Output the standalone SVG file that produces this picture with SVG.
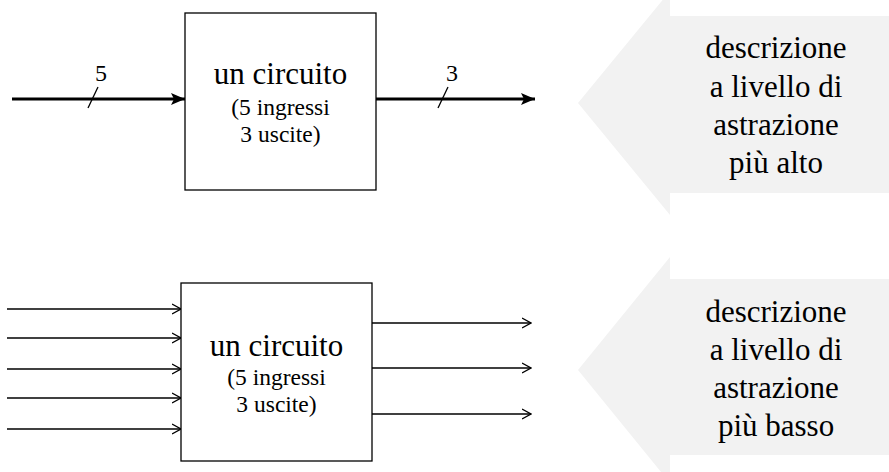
<svg xmlns="http://www.w3.org/2000/svg" width="889" height="472" viewBox="0 0 889 472">
<defs>
<marker id="ah" viewBox="0 0 14 12" refX="14" refY="6" markerWidth="14" markerHeight="12" markerUnits="userSpaceOnUse" orient="auto">
<path d="M0,0 L14,6 L0,12 L3,6 Z" fill="#000"/>
</marker>
<marker id="oh" viewBox="0 0 10 12" refX="9" refY="6" markerWidth="10" markerHeight="12" markerUnits="userSpaceOnUse" orient="auto">
<path d="M0,1 L9,6 L0,11" fill="none" stroke="#000" stroke-width="1.3"/>
</marker>
</defs>
<g id="bigarrow-top" text-anchor="middle" fill="#000">
<polygon fill="#f2f2f2" points="889,16 670,16 670,-9 578,103 670,215 670,193 889,193"/>
<text x="776" y="58" font-family="Liberation Serif" font-size="31" style="font-family:Liberation Serif,serif !important">descrizione</text>
<text x="776" y="97" font-family="Liberation Serif" font-size="31" style="font-family:Liberation Serif,serif !important">a livello di</text>
<text x="776" y="135" font-family="Liberation Serif" font-size="31" style="font-family:Liberation Serif,serif !important">astrazione</text>
<text x="776" y="173" font-family="Liberation Serif" font-size="31" style="font-family:Liberation Serif,serif !important">più alto</text>
</g>
<g id="bigarrow-bottom" text-anchor="middle" fill="#000">
<polygon fill="#f2f2f2" points="889,279 670,279 670,257 578,370 670,483 670,455 889,455"/>
<text x="776" y="322" font-family="Liberation Serif" font-size="31" style="font-family:Liberation Serif,serif !important">descrizione</text>
<text x="776" y="360" font-family="Liberation Serif" font-size="31" style="font-family:Liberation Serif,serif !important">a livello di</text>
<text x="776" y="398" font-family="Liberation Serif" font-size="31" style="font-family:Liberation Serif,serif !important">astrazione</text>
<text x="776" y="436" font-family="Liberation Serif" font-size="31" style="font-family:Liberation Serif,serif !important">più basso</text>
</g>
<g id="connectors" fill="none" stroke="#000">
<g stroke-width="3">
<line x1="12" y1="99" x2="185" y2="99" marker-end="url(#ah)"/>
<line x1="376" y1="99" x2="535" y2="99" marker-end="url(#ah)"/>
</g>
<g stroke-width="1.3">
<line x1="88" y1="108" x2="98" y2="87"/>
<line x1="438" y1="108" x2="448" y2="87"/>
<line x1="7" y1="309" x2="181" y2="309" marker-end="url(#oh)"/>
<line x1="7" y1="338" x2="181" y2="338" marker-end="url(#oh)"/>
<line x1="7" y1="369" x2="181" y2="369" marker-end="url(#oh)"/>
<line x1="7" y1="398" x2="181" y2="398" marker-end="url(#oh)"/>
<line x1="7" y1="429" x2="181" y2="429" marker-end="url(#oh)"/>
<line x1="372" y1="323" x2="531" y2="323" marker-end="url(#oh)"/>
<line x1="372" y1="368" x2="531" y2="368" marker-end="url(#oh)"/>
<line x1="372" y1="414" x2="531" y2="414" marker-end="url(#oh)"/>
</g>
<g stroke="none" fill="#000" text-anchor="middle">
<text x="101" y="81" font-family="Liberation Serif" font-size="24" style="font-family:Liberation Serif,serif !important">5</text>
<text x="452" y="81" font-family="Liberation Serif" font-size="24" style="font-family:Liberation Serif,serif !important">3</text>
</g>
</g>
<g id="circuit-top" text-anchor="middle">
<rect x="185" y="13" width="191" height="177" fill="#fff" stroke="#000" stroke-width="1.3"/>
<text x="280.5" y="84" font-family="Liberation Serif" font-size="31" style="font-family:Liberation Serif,serif !important">un circuito</text>
<text x="280.5" y="115" font-family="Liberation Serif" font-size="23.5" style="font-family:Liberation Serif,serif !important">(5 ingressi</text>
<text x="280.5" y="142" font-family="Liberation Serif" font-size="23.5" style="font-family:Liberation Serif,serif !important">3 uscite)</text>
</g>
<g id="circuit-bottom" text-anchor="middle">
<rect x="181" y="283" width="191" height="178" fill="#fff" stroke="#000" stroke-width="1.3"/>
<text x="276.5" y="356" font-family="Liberation Serif" font-size="31" style="font-family:Liberation Serif,serif !important">un circuito</text>
<text x="276.5" y="385" font-family="Liberation Serif" font-size="23.5" style="font-family:Liberation Serif,serif !important">(5 ingressi</text>
<text x="276.5" y="412" font-family="Liberation Serif" font-size="23.5" style="font-family:Liberation Serif,serif !important">3 uscite)</text>
</g>
</svg>
